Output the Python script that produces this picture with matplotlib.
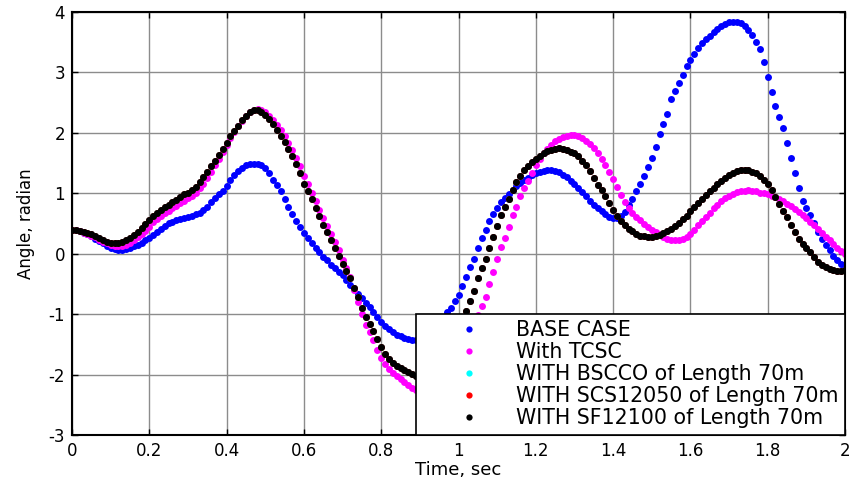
import numpy as np
import matplotlib
matplotlib.use("Agg")
import matplotlib.pyplot as plt

# sample times of the simulation output (0 to 2 s, 0.01 s step)
time = np.linspace(0, 2, 201)

# rotor angle, radian
base_case = [
    0.40, 0.39, 0.37, 0.35, 0.32, 0.29, 0.25, 0.21, 0.17, 0.13,
    0.10, 0.08, 0.06, 0.06, 0.07, 0.09, 0.12, 0.15, 0.18, 0.22,
    0.26, 0.31, 0.36, 0.41, 0.46, 0.50, 0.53, 0.56, 0.58, 0.59,
    0.60, 0.62, 0.65, 0.68, 0.73, 0.78, 0.85, 0.92, 0.98, 1.04,
    1.12, 1.22, 1.30, 1.37, 1.42, 1.46, 1.48, 1.49, 1.48, 1.46,
    1.42, 1.33, 1.22, 1.13, 1.03, 0.91, 0.78, 0.65, 0.54, 0.45,
    0.35, 0.26, 0.17, 0.10, 0.02, -0.05, -0.11, -0.18, -0.24, -0.30,
    -0.36, -0.43, -0.51, -0.59, -0.67, -0.74, -0.81, -0.88, -0.96, -1.05,
    -1.13, -1.19, -1.25, -1.30, -1.34, -1.37, -1.39, -1.41, -1.42, -1.42,
    -1.41, -1.38, -1.33, -1.27, -1.20, -1.12, -1.04, -0.97, -0.90, -0.79,
    -0.68, -0.53, -0.38, -0.22, -0.08, 0.10, 0.26, 0.40, 0.54, 0.66,
    0.76, 0.85, 0.92, 0.99, 1.06, 1.12, 1.17, 1.22, 1.26, 1.30,
    1.33, 1.35, 1.37, 1.38, 1.38, 1.37, 1.35, 1.31, 1.27, 1.21,
    1.15, 1.09, 1.02, 0.95, 0.88, 0.81, 0.75, 0.70, 0.65, 0.61,
    0.59, 0.59, 0.63, 0.69, 0.80, 0.91, 1.03, 1.16, 1.29, 1.43,
    1.58, 1.76, 1.98, 2.15, 2.32, 2.56, 2.70, 2.82, 2.96, 3.10,
    3.21, 3.31, 3.40, 3.48, 3.55, 3.61, 3.67, 3.72, 3.77, 3.80,
    3.83, 3.84, 3.84, 3.82, 3.77, 3.70, 3.62, 3.50, 3.38, 3.17,
    2.93, 2.68, 2.45, 2.26, 2.08, 1.84, 1.58, 1.33, 1.08, 0.88,
    0.76, 0.64, 0.50, 0.36, 0.25, 0.15, 0.06, -0.03, -0.11, -0.17,
    -0.20]

with_tcsc = [
    0.40, 0.39, 0.37, 0.35, 0.33, 0.30, 0.27, 0.23, 0.20, 0.17,
    0.14, 0.13, 0.12, 0.13, 0.15, 0.18, 0.22, 0.27, 0.32, 0.38,
    0.45, 0.52, 0.58, 0.63, 0.67, 0.71, 0.75, 0.79, 0.84, 0.88,
    0.92, 0.96, 1.01, 1.08, 1.16, 1.25, 1.35, 1.46, 1.57, 1.69,
    1.80, 1.91, 2.01, 2.11, 2.20, 2.28, 2.34, 2.38, 2.39, 2.38,
    2.34, 2.28, 2.21, 2.13, 2.04, 1.94, 1.83, 1.72, 1.59, 1.45,
    1.29, 1.15, 1.01, 0.87, 0.73, 0.59, 0.46, 0.33, 0.20, 0.06,
    -0.10, -0.24, -0.39, -0.60, -0.80, -1.00, -1.18, -1.30, -1.43, -1.59,
    -1.73, -1.83, -1.91, -1.97, -2.02, -2.07, -2.12, -2.17, -2.22, -2.26,
    -2.29, -2.31, -2.31, -2.29, -2.27, -2.25, -2.19, -2.11, -2.01, -1.89,
    -1.76, -1.60, -1.46, -1.31, -1.16, -1.01, -0.86, -0.71, -0.50, -0.30,
    -0.08, 0.11, 0.26, 0.44, 0.64, 0.78, 0.95, 1.09, 1.21, 1.33,
    1.46, 1.57, 1.66, 1.74, 1.80, 1.86, 1.90, 1.93, 1.95, 1.96,
    1.96, 1.94, 1.91, 1.87, 1.82, 1.75, 1.67, 1.57, 1.47, 1.35,
    1.23, 1.10, 0.97, 0.86, 0.76, 0.68, 0.61, 0.55, 0.49, 0.44,
    0.40, 0.36, 0.32, 0.28, 0.25, 0.23, 0.22, 0.22, 0.24, 0.28,
    0.33, 0.40, 0.47, 0.54, 0.61, 0.68, 0.75, 0.81, 0.87, 0.92,
    0.96, 0.99, 1.02, 1.03, 1.04, 1.05, 1.04, 1.03, 1.01, 1.00,
    0.98, 0.96, 0.94, 0.91, 0.87, 0.83, 0.79, 0.74, 0.69, 0.64,
    0.59, 0.53, 0.47, 0.41, 0.35, 0.28, 0.22, 0.16, 0.10, 0.05,
    0.00]

sf12100 = [
    0.40, 0.39, 0.38, 0.36, 0.34, 0.32, 0.29, 0.26, 0.23, 0.20,
    0.18, 0.17, 0.17, 0.19, 0.22, 0.26, 0.31, 0.36, 0.42, 0.49,
    0.56, 0.62, 0.68, 0.73, 0.77, 0.81, 0.85, 0.89, 0.94, 0.98,
    1.01, 1.05, 1.11, 1.19, 1.27, 1.36, 1.45, 1.54, 1.64, 1.74,
    1.84, 1.94, 2.03, 2.12, 2.21, 2.28, 2.34, 2.37, 2.37, 2.35,
    2.29, 2.23, 2.15, 2.05, 1.95, 1.85, 1.74, 1.62, 1.48, 1.33,
    1.15, 1.03, 0.90, 0.76, 0.62, 0.48, 0.36, 0.23, 0.10, -0.04,
    -0.17, -0.28, -0.41, -0.57, -0.72, -0.90, -1.04, -1.16, -1.28, -1.41,
    -1.54, -1.66, -1.75, -1.81, -1.86, -1.89, -1.92, -1.95, -1.99, -2.02,
    -2.04, -2.05, -2.03, -1.98, -1.91, -1.82, -1.72, -1.61, -1.50, -1.38,
    -1.23, -1.08, -0.94, -0.79, -0.61, -0.40, -0.24, -0.08, 0.10, 0.27,
    0.46, 0.64, 0.77, 0.90, 1.05, 1.18, 1.28, 1.38, 1.45, 1.51,
    1.57, 1.62, 1.66, 1.70, 1.72, 1.74, 1.75, 1.74, 1.72, 1.69,
    1.66, 1.61, 1.54, 1.46, 1.37, 1.26, 1.14, 1.05, 0.96, 0.84,
    0.72, 0.62, 0.54, 0.48, 0.41, 0.37, 0.33, 0.30, 0.29, 0.28,
    0.28, 0.29, 0.31, 0.34, 0.37, 0.41, 0.46, 0.51, 0.57, 0.63,
    0.70, 0.77, 0.84, 0.91, 0.97, 1.03, 1.09, 1.15, 1.21, 1.26,
    1.30, 1.34, 1.37, 1.38, 1.39, 1.38, 1.36, 1.33, 1.28, 1.22,
    1.16, 1.06, 0.94, 0.82, 0.71, 0.60, 0.48, 0.36, 0.25, 0.16,
    0.09, 0.02, -0.06, -0.13, -0.18, -0.22, -0.25, -0.27, -0.28, -0.28,
    -0.27]

# the two other superconductor cases lie on the SF12100 curve
bscco = list(sf12100)
scs12050 = list(sf12100)

labels = ["BASE CASE", "With TCSC", "WITH BSCCO of Length 70m",
          "WITH SCS12050 of Length 70m", "WITH SF12100 of Length 70m"]
colors = ["#0000ff", "#ff00ff", "#00ffff", "#ff0000", "#000000"]

xticks = [0, 0.2, 0.4, 0.6, 0.8, 1, 1.2, 1.4, 1.6, 1.8, 2]
xticklabels = ["0", "0.2", "0.4", "0.6", "0.8", "1", "1.2", "1.4", "1.6", "1.8", "2"]
yticks = [-3, -2, -1, 0, 1, 2, 3, 4]
yticklabels = ["-3", "-2", "-1", "0", "1", "2", "3", "4"]

plt.rcParams['font.family'] = 'DejaVu Sans'

fig = plt.figure(figsize=(8.51, 4.83), dpi=100)
ax = fig.add_axes([0.0846, 0.0994, 0.9084, 0.8758])

series = [base_case, with_tcsc, bscco, scs12050, sf12100]
for yy, col, lab in zip(series, colors, labels):
    ax.plot(time, yy, 'o', color=col, markersize=5, markeredgewidth=0,
            label=lab)

ax.set_xlim(0, 2)
ax.set_ylim(-3, 4)
ax.set_xticks(xticks)
ax.set_xticklabels(xticklabels)
ax.set_yticks(yticks)
ax.set_yticklabels(yticklabels)
ax.grid(True, color='#8c8c8c', linestyle='-', linewidth=1.0)
ax.set_axisbelow(True)
ax.tick_params(direction='in', length=4, width=1, top=True, right=True,
               labelsize=12, pad=5)
for sp in ax.spines.values():
    sp.set_linewidth(1.5)
    sp.set_color('black')

ax.set_xlabel('Time, sec', fontsize=13, labelpad=1)
ax.set_ylabel('Angle, radian', fontsize=12, labelpad=10)

leg = ax.legend(loc='lower right', bbox_to_anchor=(1, 0), borderaxespad=0,
                numpoints=1, fontsize=14.8, handlelength=4.55,
                handletextpad=0.0, labelspacing=0.1, borderpad=0.32,
                fancybox=False, framealpha=1, edgecolor='black',
                markerscale=0.9)
leg.get_frame().set_linewidth(1.2)
leg.set_zorder(10)

plt.savefig('out.png', dpi=100)
